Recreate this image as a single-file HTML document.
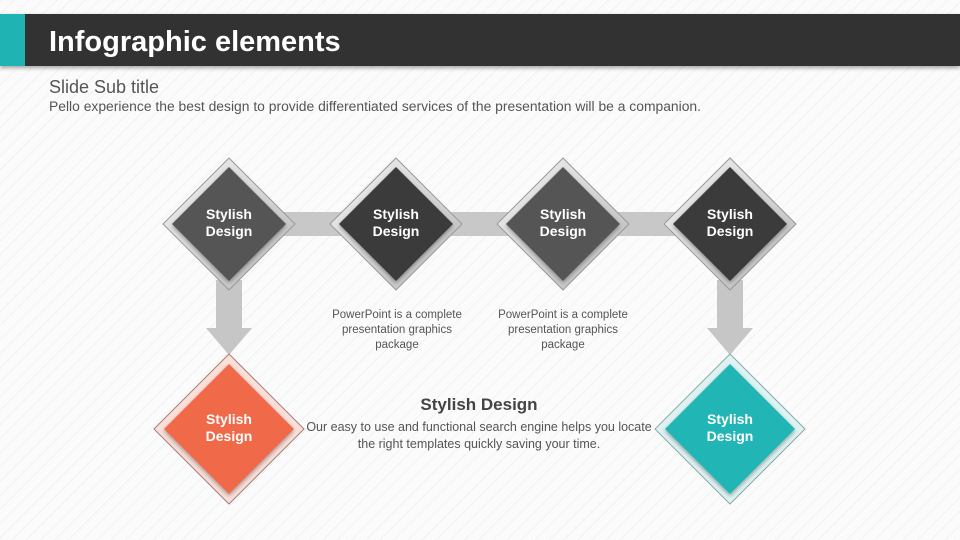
<!DOCTYPE html>
<html><head><meta charset="utf-8"><style>
body{margin:0;width:960px;height:540px;overflow:hidden;background:#fafafa;font-family:"Liberation Sans",sans-serif;}
svg{display:block}
</style></head><body>
<svg width="960" height="540" viewBox="0 0 960 540" xmlns="http://www.w3.org/2000/svg">
<defs>
<pattern id="st" width="10" height="10" patternUnits="userSpaceOnUse" patternTransform="rotate(45)">
<rect width="10" height="10" fill="#fbfbfb"/><line x1="0" y1="0" x2="0" y2="10" stroke="#ececec" stroke-width="1.2"/>
</pattern>
<linearGradient id="fr" x1="0" y1="0" x2="1" y2="1"><stop offset="0" stop-color="#f4f4f4"/><stop offset="1" stop-color="#b8b8b8"/></linearGradient>
<filter id="sh"><feDropShadow dx="0" dy="2" stdDeviation="2" flood-opacity="0.35"/></filter>
</defs>
<rect width="960" height="540" fill="url(#st)"/>
<rect x="0" y="14" width="960" height="52" fill="#333" filter="url(#sh)"/>
<rect x="0" y="14" width="25" height="52" fill="#1fb3b3"/>
<text x="49" y="51" font-size="29" font-weight="bold" fill="#fff">Infographic elements</text>
<text x="49" y="93" font-size="18" fill="#555">Slide Sub title</text>
<text x="49" y="111" font-size="13.5" fill="#555" textLength="652" lengthAdjust="spacingAndGlyphs">Pello experience the best design to provide differentiated services of the presentation will be a companion.</text>
<rect x="229" y="212" width="501" height="24" fill="#c8c8c8"/>
<g fill="#c6c6c6">
<rect x="216" y="280" width="26" height="50"/><polygon points="206,328 252,328 229,355"/>
<rect x="717" y="280" width="26" height="50"/><polygon points="707,328 753,328 730,355"/>
</g>
<g font-size="14" font-weight="bold" fill="#fff" text-anchor="middle">
<g transform="translate(229,224)"><polygon points="0,-66 66,0 0,66 -66,0" fill="url(#fr)" stroke="#999"/><polygon points="0,-57 57,0 0,57 -57,0" fill="#555" filter="url(#sh)"/><text y="-5">Stylish</text><text y="12">Design</text></g>
<g transform="translate(396,224)"><polygon points="0,-66 66,0 0,66 -66,0" fill="url(#fr)" stroke="#999"/><polygon points="0,-57 57,0 0,57 -57,0" fill="#3a3a3a" filter="url(#sh)"/><text y="-5">Stylish</text><text y="12">Design</text></g>
<g transform="translate(563,224)"><polygon points="0,-66 66,0 0,66 -66,0" fill="url(#fr)" stroke="#999"/><polygon points="0,-57 57,0 0,57 -57,0" fill="#555" filter="url(#sh)"/><text y="-5">Stylish</text><text y="12">Design</text></g>
<g transform="translate(730,224)"><polygon points="0,-66 66,0 0,66 -66,0" fill="url(#fr)" stroke="#999"/><polygon points="0,-57 57,0 0,57 -57,0" fill="#3a3a3a" filter="url(#sh)"/><text y="-5">Stylish</text><text y="12">Design</text></g>
<g transform="translate(229,429)"><polygon points="0,-75 75,0 0,75 -75,0" fill="#fbe0da" stroke="#a08078"/><polygon points="0,-65 65,0 0,65 -65,0" fill="#f0694a" filter="url(#sh)"/><text y="-5">Stylish</text><text y="12">Design</text></g>
<g transform="translate(730,429)"><polygon points="0,-75 75,0 0,75 -75,0" fill="#dff3f3" stroke="#88aaaa"/><polygon points="0,-65 65,0 0,65 -65,0" fill="#24b5b5" filter="url(#sh)"/><text y="-5">Stylish</text><text y="12">Design</text></g>
</g>
<g font-size="11.5" fill="#555" text-anchor="middle">
<text x="397" y="318">PowerPoint is a complete</text><text x="397" y="333">presentation graphics</text><text x="397" y="348">package</text>
<text x="563" y="318">PowerPoint is a complete</text><text x="563" y="333">presentation graphics</text><text x="563" y="348">package</text>
<text x="479" y="410" font-size="17" font-weight="bold" fill="#444">Stylish Design</text>
<text x="479" y="431" font-size="12.5">Our easy to use and functional search engine helps you locate</text>
<text x="479" y="448" font-size="12.5">the right  templates quickly saving your time.</text>
</g>
</svg>
</body></html>
